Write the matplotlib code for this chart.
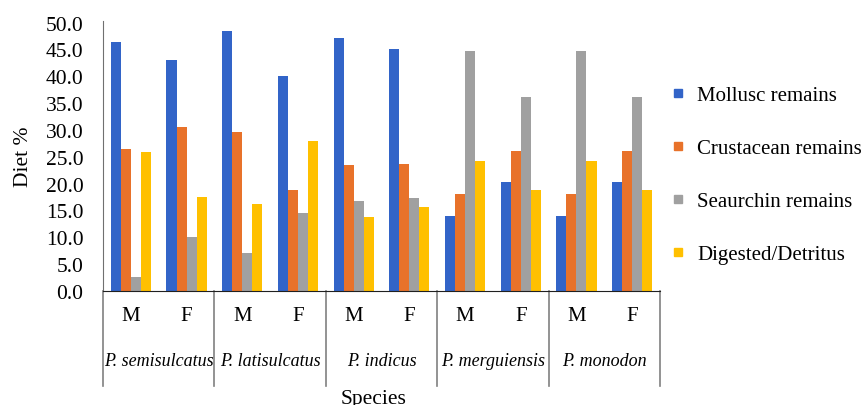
import numpy as np
import matplotlib
matplotlib.use("Agg")
import matplotlib.pyplot as plt
from matplotlib.lines import Line2D

plt.rcParams['font.family'] = ['Liberation Serif', 'DejaVu Serif']

species = ['P. semisulcatus', 'P. latisulcatus', 'P. indicus', 'P. merguiensis', 'P. monodon']
sexes = ['M', 'F']
series = ['Mollusc remains', 'Crustacean remains', 'Seaurchin remains', 'Digested/Detritus']
colors = ['#3264C8', '#E8722A', '#A0A0A0', '#FFC000']

# M, F per species in order
mollusc = [46.4, 43.0, 48.4, 40.1, 47.2, 45.0, 14.0, 20.3, 14.0, 20.3]
crustacean = [26.4, 30.5, 29.6, 18.8, 23.4, 23.6, 18.0, 26.1, 18.0, 26.1]
seaurchin = [2.6, 10.1, 7.0, 14.5, 16.8, 17.3, 44.8, 36.2, 44.8, 36.2]
detritus = [25.9, 17.5, 16.3, 28.0, 13.8, 15.6, 24.3, 18.8, 24.3, 18.8]
values = [mollusc, crustacean, seaurchin, detritus]

fig = plt.figure(figsize=(8.64, 4.06), dpi=100)
ax = fig.add_axes([103 / 864, 1 - 292 / 406, 557 / 864, 270 / 406])

x = np.arange(len(mollusc))
w = 0.18
for i, (vals, c) in enumerate(zip(values, colors)):
    ax.bar(x + (i - 1.5) * w, vals, width=w, color=c, label=series[i])

ax.set_xlim(-0.5, len(x) - 0.5)
ax.set_ylim(0, 50.3)
ax.set_yticks(np.arange(0, 50.1, 5))
ax.set_yticklabels([f'{v:.1f}' for v in np.arange(0, 50.1, 5)], fontsize=15.5)
ax.tick_params(axis='y', length=0, pad=14)
ax.set_xticks([])
for s in ['top', 'right']:
    ax.spines[s].set_visible(False)
ax.spines['left'].set_color('#707070')
ax.spines['bottom'].set_color('#202020')

trans = ax.get_xaxis_transform()
# group separators
for b in np.arange(-0.5, len(x), 2):
    ax.plot([b, b], [0, -0.352], transform=trans, color='#808080', lw=1.2, clip_on=False)
for i, xi in enumerate(x):
    ax.text(xi, -0.089, sexes[i % 2], transform=trans, ha='center', va='center', fontsize=15)
for j, sp in enumerate(species):
    ax.text(2 * j + 0.5, -0.259, sp, transform=trans, ha='center', va='center',
            fontsize=13, style='italic')

ax.text(4.35, -0.40, 'Species', transform=trans, ha='center', va='center', fontsize=15.5)
ax.set_ylabel('Diet %', fontsize=15.5)
ax.yaxis.set_label_coords(-0.125, 0.5)

handles = [Line2D([], [], marker='s', ls='', color=c, markersize=6) for c in colors]
fig.legend(handles, series, loc='center left', bbox_to_anchor=(672 / 864, 1 - 176 / 406),
           frameon=False, fontsize=15, borderpad=0, borderaxespad=0, handlelength=0.6,
           handletextpad=0.6, labelspacing=1.6)

fig.savefig('out.png', dpi=100)
